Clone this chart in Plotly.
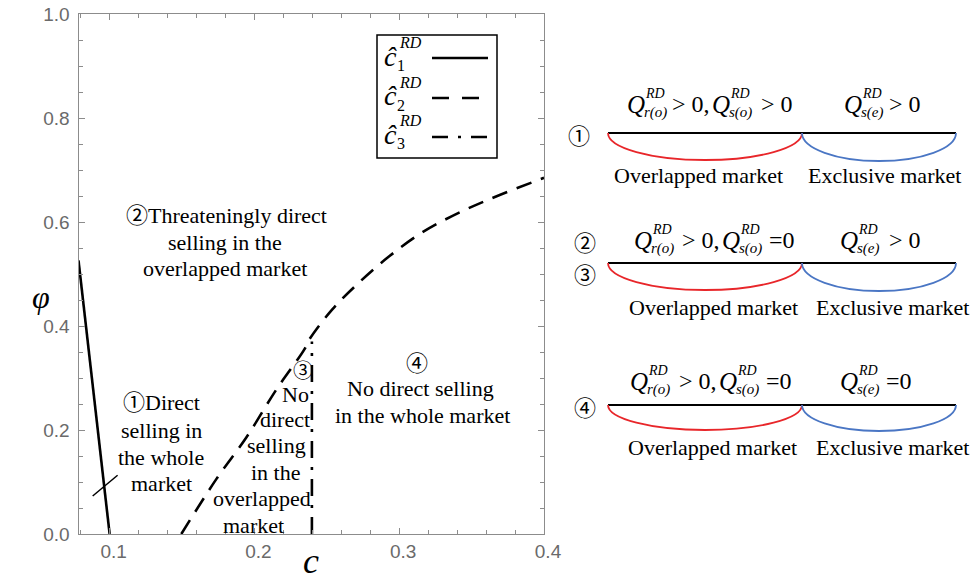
import plotly.graph_objects as go

W, H = 971, 583

# Boundary curves in the (c, phi) plane
c1_c = [0.0785, 0.0892, 0.1000]
c1_phi = [0.526, 0.262, 0.0]

c2_c = [0.1495, 0.1738, 0.1945, 0.2152, 0.2345, 0.2379, 0.2538, 0.2724,
        0.2931, 0.3159, 0.3414, 0.3669, 0.4000]
c2_phi = [0.0, 0.106, 0.186, 0.278, 0.355, 0.374, 0.432, 0.484,
          0.534, 0.580, 0.618, 0.649, 0.685]

c3_c = [0.2397, 0.2397]
c3_phi = [0.0, 0.370]

x_range = [0.0785, 0.4]
y_range = [0.0, 1.0]

SERIF = "Liberation Serif, Times New Roman, Noto Sans CJK JP, serif"
SANS = "Liberation Sans, Arial, sans-serif"
CIRC = "Noto Sans CJK JP, DejaVu Sans, sans-serif"
DASH2 = "16px,10px"
DASH3 = "17px,9px,3px,9px"
RED = "#e8262a"
BLUE = "#4a76c4"


def px(x):
    return x / W


def py(y):
    return 1 - y / H


fig = go.Figure()
fig.add_trace(go.Scatter(x=c1_c, y=c1_phi, mode="lines",
                         line=dict(color="black", width=2.6), showlegend=False))
fig.add_trace(go.Scatter(x=c2_c, y=c2_phi, mode="lines", line_shape="spline",
                         line=dict(color="black", width=2.6, dash=DASH2), showlegend=False))
fig.add_trace(go.Scatter(x=c3_c, y=c3_phi, mode="lines",
                         line=dict(color="black", width=2.6, dash=DASH3), showlegend=False))

ann = []
shapes = []


def txt(x, y, s, size=22, family=SERIF, xanchor="center", color="black"):
    ann.append(dict(x=px(x), y=py(y), xref="paper", yref="paper", text=s,
                    showarrow=False, xanchor=xanchor, yanchor="middle",
                    font=dict(family=family, size=size, color=color)))


def hline(x0, x1, y, width=2, color="black", dash="solid"):
    shapes.append(dict(type="line", xref="paper", yref="paper",
                       x0=px(x0), x1=px(x1), y0=py(y), y1=py(y),
                       line=dict(color=color, width=width, dash=dash)))


def arc(x0, x1, y, d, color):
    k = 0.5523
    xm = (x0 + x1) / 2
    rx = (x1 - x0) / 2
    pts = [(x0, y), (x0, y + k * d), (xm - k * rx, y + d), (xm, y + d),
           (xm + k * rx, y + d), (x1, y + k * d), (x1, y)]
    p = [f"{px(a):.5f},{py(b):.5f}" for a, b in pts]
    path = f"M {p[0]} C {p[1]} {p[2]} {p[3]} C {p[4]} {p[5]} {p[6]}"
    shapes.append(dict(type="path", xref="paper", yref="paper", path=path,
                       line=dict(color=color, width=1.8)))


# Region labels inside the plot
for (x, y, s, sz) in [(226, 215, "②Threateningly direct", 22), (225, 242, "selling in the", 22),
                      (225, 268, "overlapped market", 22),
                      (161, 403, "①Direct", 22), (161, 430, "selling in", 22),
                      (161, 457, "the whole", 22), (161, 483, "market", 22),
                      (303, 371, "③", 20), (295, 394, "No", 22), (285, 419, "direct", 22),
                      (276, 445, "selling", 22), (276, 472, "in the", 22),
                      (262, 498, "overlapped", 22), (254, 525, "market", 22),
                      (417, 363, "④", 22), (420, 388, "No direct selling", 22),
                      (422, 415, "in the whole market", 22)]:
    txt(x, y, s, size=sz)

# Pointer mark for region 1
shapes.append(dict(type="line", xref="x", yref="y", x0=0.0883, y0=0.073,
                   x1=0.1055, y1=0.113, line=dict(color="black", width=1.5)))

# Axis titles
txt(41, 297, "<i>φ</i>", size=32)
txt(311, 561, "<i>c</i>", size=36)

# Legend box
shapes.append(dict(type="rect", xref="paper", yref="paper", x0=px(377), x1=px(497),
                   y0=py(35), y1=py(158), line=dict(color="black", width=1.5)))
legend_samples = [(58, "solid", 488), (98, "17px,13px", 480), (137, "16px,10px,3px,10px", 488)]
for i, (yy, dash, xend) in enumerate(legend_samples):
    base = 56 + 39 * i
    txt(390, base, "<i>ĉ</i>", size=28)
    txt(397, base - 13, "<i>RD</i>", size=16, xanchor="left")
    txt(395, base + 10, str(i + 1), size=16, xanchor="left")
    hline(432, xend, yy, width=2.6, dash=dash)


# Market diagrams on the right
def qterm(xq, y, sub, rest, xr):
    txt(xq, y, "<i>Q</i>", size=25, xanchor="left")
    txt(xq + 18, y - 11, "<i>RD</i>", size=14, xanchor="left")
    txt(xq + 17, y + 8, f"<i>{sub}</i>", size=15, xanchor="left")
    txt(xr, y, rest, size=24, xanchor="left")


rows = [
    dict(num=[(579, 134, "①")], qy=104, line=133, d=27, lab=175, lc=(698, 884),
         terms=[(625, "r(o)", "&gt; 0,", 670), (710, "s(o)", "&gt; 0", 759),
                (842, "s(e)", "&gt; 0", 887)]),
    dict(num=[(585, 241, "②"), (585, 273, "③")], qy=240, line=263, d=27, lab=307,
         lc=(713, 892),
         terms=[(632, "r(o)", "&gt; 0,", 680), (720, "s(o)", "=0", 767),
                (838, "s(e)", "&gt; 0", 887)]),
    dict(num=[(585, 406, "④")], qy=381, line=405, d=25, lab=447, lc=(712, 892),
         terms=[(628, "r(o)", "&gt; 0,", 677), (717, "s(o)", "=0", 764),
                (838, "s(e)", "=0", 884)]),
]
for r in rows:
    for (x, y, s) in r["num"]:
        txt(x, y, s, size=22, family=CIRC)
    for (xq, sub, rest, xr) in r["terms"]:
        qterm(xq, r["qy"], sub, rest, xr)
    hline(608, 956, r["line"], width=2)
    arc(608, 802, r["line"], r["d"], RED)
    arc(802, 956, r["line"], r["d"] + 1, BLUE)
    txt(r["lc"][0], r["lab"], "Overlapped market", size=22)
    txt(r["lc"][1], r["lab"], "Exclusive market", size=22)

axis_common = dict(showline=True, linecolor="#8c8c8c", linewidth=1, mirror="ticks",
                   ticks="inside", ticklen=6, tickcolor="#8c8c8c", showgrid=False,
                   zeroline=False, tickformat=".1f", automargin=False,
                   tickfont=dict(family=SANS, size=19, color="#6a6a6a"))

fig.update_layout(
    width=W, height=H,
    margin=dict(l=0, r=0, t=0, b=0, pad=0),
    paper_bgcolor="white", plot_bgcolor="white",
    showlegend=False,
    xaxis=dict(domain=[78.5 / W, 544 / W], range=x_range, dtick=0.1, tick0=0,
               ticklabelshift=4,
               minor=dict(ticks="inside", ticklen=4, dtick=0.02, tickcolor="#8c8c8c",
                          showgrid=False),
               **axis_common),
    yaxis=dict(domain=[1 - 534 / H, 1 - 14 / H], range=y_range, dtick=0.2, tick0=0,
               ticklabelstandoff=4,
               minor=dict(ticks="inside", ticklen=4, dtick=0.05, tickcolor="#8c8c8c",
                          showgrid=False),
               **axis_common),
    annotations=ann,
    shapes=shapes,
)

fig.write_html("out.html")
